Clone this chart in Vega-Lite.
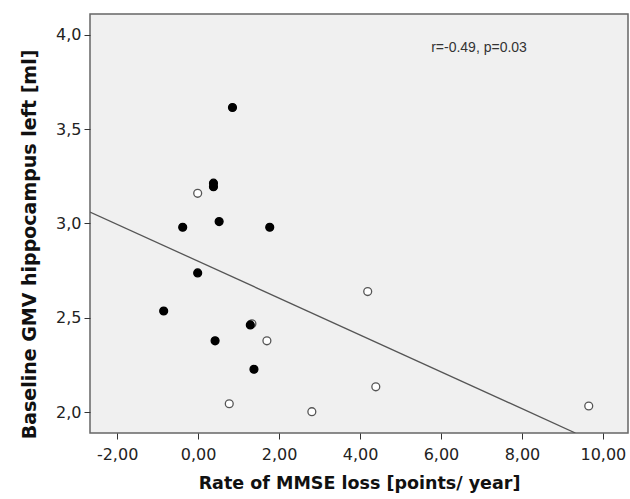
{
  "$schema": "https://vega.github.io/schema/vega-lite/v6.json",
  "width": 538,
  "height": 419,
  "autosize": "none",
  "padding": {"left": 90, "top": 14, "right": 2, "bottom": 66},
  "background": "white",
  "config": {
    "font": "DejaVu Sans",
    "view": {"fill": "#f0f0f0", "stroke": "#666666", "strokeWidth": 1.5},
    "axis": {
      "grid": false,
      "domain": false,
      "tickColor": "#333333",
      "tickSize": 6,
      "labelFont": "DejaVu Sans",
      "labelFontSize": 16,
      "labelColor": "#222222",
      "titleFont": "DejaVu Sans",
      "titleFontWeight": "bold",
      "titleColor": "#111111"
    }
  },
  "datasets": {
    "points": [
      {"rate": 0.85, "gmv": 3.615, "group": "filled"},
      {"rate": 0.38, "gmv": 3.214, "group": "filled"},
      {"rate": 0.38, "gmv": 3.195, "group": "filled"},
      {"rate": -0.01, "gmv": 3.16, "group": "open"},
      {"rate": 0.52, "gmv": 3.01, "group": "filled"},
      {"rate": -0.38, "gmv": 2.98, "group": "filled"},
      {"rate": 1.77, "gmv": 2.98, "group": "filled"},
      {"rate": -0.01, "gmv": 2.738, "group": "filled"},
      {"rate": -0.85, "gmv": 2.536, "group": "filled"},
      {"rate": 1.33, "gmv": 2.468, "group": "open"},
      {"rate": 1.29, "gmv": 2.462, "group": "filled"},
      {"rate": 0.42, "gmv": 2.378, "group": "filled"},
      {"rate": 1.70, "gmv": 2.378, "group": "open"},
      {"rate": 1.38, "gmv": 2.227, "group": "filled"},
      {"rate": 0.77, "gmv": 2.044, "group": "open"},
      {"rate": 2.81, "gmv": 2.002, "group": "open"},
      {"rate": 4.19, "gmv": 2.639, "group": "open"},
      {"rate": 4.39, "gmv": 2.134, "group": "open"},
      {"rate": 9.65, "gmv": 2.032, "group": "open"}
    ],
    "fit": [
      {"rate": -2.67, "gmv": 3.061},
      {"rate": 9.32, "gmv": 1.889}
    ],
    "note": [
      {"rate": 6.94, "gmv": 3.93, "label": "r=-0.49, p=0.03"}
    ]
  },
  "layer": [
    {
      "data": {"name": "fit"},
      "mark": {"type": "line", "color": "#555555", "strokeWidth": 1.3, "clip": true},
      "encoding": {
        "x": {
          "field": "rate", "type": "quantitative",
          "scale": {"domain": [-2.67, 10.62], "nice": false, "zero": false},
          "axis": {
            "values": [-2, 0, 2, 4, 6, 8, 10],
            "labelExpr": "replace(replace(format(datum.value, '.2f'), '.', ','), '\u2212', '-')",
            "labelPadding": 7,
            "title": "Rate of MMSE loss [points/ year]",
            "titleFontSize": 17.5,
            "titlePadding": 12
          }
        },
        "y": {
          "field": "gmv", "type": "quantitative",
          "scale": {"domain": [1.889, 4.111], "nice": false, "zero": false},
          "axis": {
            "values": [2.0, 2.5, 3.0, 3.5, 4.0],
            "labelExpr": "replace(format(datum.value, '.1f'), '.', ',')",
            "labelPadding": 3,
            "title": "Baseline GMV hippocampus left [ml]",
            "titleFontSize": 19,
            "titlePadding": 16,
            "titleY": 230
          }
        }
      }
    },
    {
      "data": {"name": "points"},
      "mark": {"type": "point", "shape": "circle", "size": 62, "strokeWidth": 1.3, "opacity": 1},
      "encoding": {
        "x": {"field": "rate", "type": "quantitative"},
        "y": {"field": "gmv", "type": "quantitative"},
        "fill": {
          "field": "group", "type": "nominal",
          "scale": {"domain": ["filled", "open"], "range": ["#000000", "#ffffff"]},
          "legend": null
        },
        "stroke": {
          "field": "group", "type": "nominal",
          "scale": {"domain": ["filled", "open"], "range": ["#000000", "#555555"]},
          "legend": null
        },
        "fillOpacity": {"value": 1}
      }
    },
    {
      "data": {"name": "note"},
      "mark": {"type": "text", "font": "Liberation Sans", "fontSize": 14, "color": "#333333", "align": "center", "baseline": "middle"},
      "encoding": {
        "x": {"field": "rate", "type": "quantitative"},
        "y": {"field": "gmv", "type": "quantitative"},
        "text": {"field": "label"}
      }
    }
  ]
}
